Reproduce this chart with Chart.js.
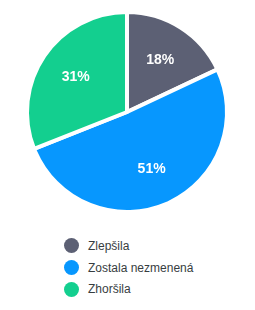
<!DOCTYPE html>
<html>
<head>
<meta charset="utf-8">
<script src="https://cdn.jsdelivr.net/npm/chart.js@4"></script>
<style>
  body { margin: 0; background: #fff; font-family: "Liberation Sans", Arial, sans-serif; }
  #wrap { position: relative; width: 255px; height: 310px; }
  #box { position: absolute; left: 0; top: 0; width: 255px; height: 225px; }
  #legend { position: absolute; left: 64px; top: 235px; }
  .item { height: 21.7px; display: flex; align-items: center; font-size: 12px; color: #373d3f; }
  .dot { width: 15px; height: 15px; border-radius: 50%; margin-right: 9px; flex: none; }
</style>
</head>
<body>
<div id="wrap">
  <div id="box"><canvas id="pie"></canvas></div>
  <div id="legend"></div>
</div>
<script>
    // Data
    const labels = ['Zlepšila', 'Zostala nezmenená', 'Zhoršila'];
    const values = [18, 51, 31];
    const colors = ['#5c6074', '#0797fe', '#13cf8f'];

    // percent labels inside slices
    const pctLabels = {
      id: 'pctLabels',
      afterDatasetsDraw(chart) {
        const ctx = chart.ctx;
        const meta = chart.getDatasetMeta(0);
        const total = values.reduce((a, b) => a + b, 0);
        ctx.save();
        ctx.font = 'bold 14px "Liberation Sans", Arial, sans-serif';
        ctx.fillStyle = '#fff';
        ctx.textAlign = 'center';
        ctx.textBaseline = 'middle';
        meta.data.forEach((arc, i) => {
          const mid = (arc.startAngle + arc.endAngle) / 2;
          const r = arc.outerRadius * 0.62;
          const x = arc.x + Math.cos(mid) * r;
          const y = arc.y + Math.sin(mid) * r;
          ctx.fillText(Math.round(values[i] / total * 100) + '%', x, y);
        });
        ctx.restore();
      }
    };

    const pieChart = new Chart(document.getElementById('pie'), {
      type: 'pie',
      data: {
        labels: labels,
        datasets: [{
          data: values,
          backgroundColor: colors,
          borderColor: '#fff',
          borderWidth: 4,
          borderJoinStyle: 'round',
          radius: 100,
        }]
      },
      options: {
        responsive: true,
        maintainAspectRatio: false,
        animation: false,
        layout: { padding: { left: 25, right: 26, top: 10, bottom: 11 } },
        plugins: {
          legend: { display: false },
          tooltip: { enabled: false },
        }
      },
      plugins: [pctLabels]
    });

    // Legend
    const legend = document.getElementById('legend');
    labels.forEach((l, i) => {
      const item = document.createElement('div');
      item.className = 'item';
      const dot = document.createElement('span');
      dot.className = 'dot';
      dot.style.background = colors[i];
      const txt = document.createElement('span');
      txt.textContent = l;
      item.appendChild(dot);
      item.appendChild(txt);
      legend.appendChild(item);
    });
</script>
</body>
</html>
